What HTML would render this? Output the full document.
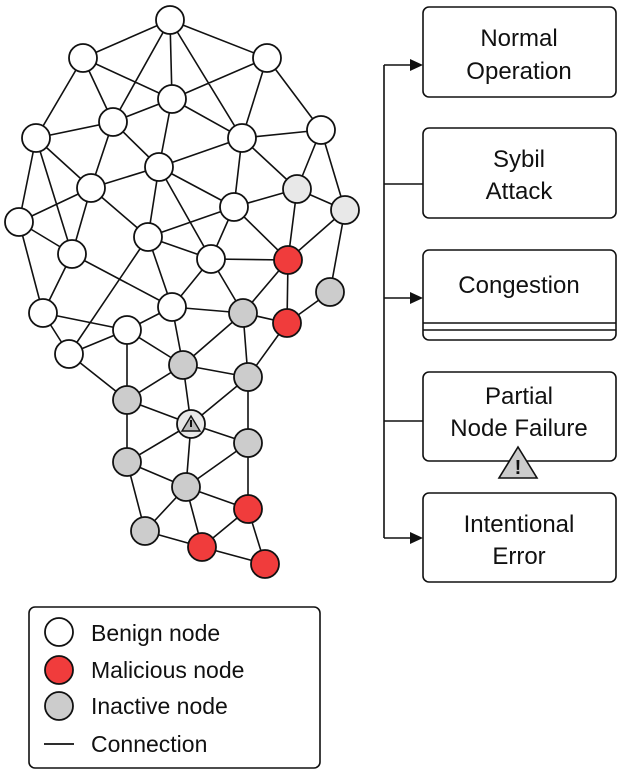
<!DOCTYPE html>
<html><head><meta charset="utf-8"><style>
html,body{margin:0;padding:0;background:#fff;}
text{font-family:"Liberation Sans",sans-serif;fill:#111;}
</style></head><body>
<svg width="624" height="776" viewBox="0 0 624 776" xmlns="http://www.w3.org/2000/svg">
<g stroke="#111" stroke-width="1.6" fill="none">
<path d="M170,20L83,58M170,20L267,58M170,20L172,99M170,20L113,122M170,20L242,138
M83,58L172,99M83,58L113,122M83,58L36,138
M267,58L172,99M267,58L242,138M267,58L321,130
M172,99L113,122M172,99L159,167M172,99L242,138
M113,122L36,138M113,122L159,167M113,122L91,188
M36,138L91,188M36,138L19,222M36,138L72,254
M242,138L159,167M242,138L234,207M242,138L321,130M242,138L297,189
M321,130L297,189M321,130L345,210
M159,167L91,188M159,167L234,207M159,167L148,237M159,167L211,259
M91,188L19,222M91,188L72,254M91,188L148,237
M297,189L234,207M297,189L345,210M297,189L288,260
M345,210L288,260M345,210L330,292
M19,222L72,254M19,222L43,313M72,254L43,313M72,254L172,307
M234,207L148,237M234,207L211,259M234,207L288,260
M148,237L211,259M148,237L69,354M148,237L172,307
M211,259L172,307M211,259L243,313M211,259L288,260
M288,260L243,313M288,260L287,323M287,323L330,292
M43,313L127,330M43,313L69,354M69,354L127,330M127,330L172,307M172,307L243,313M172,307L183,365
M127,330L183,365M243,313L287,323M243,313L183,365M243,313L248,377M287,323L248,377
M69,354L127,400M127,330L127,400M183,365L127,400M183,365L248,377M183,365L191,424
M127,400L191,424M191,424L248,377M248,377L248,443M191,424L248,443
M127,400L127,462M127,462L191,424M191,424L186,487M127,462L186,487M186,487L248,443
M248,443L248,509M186,487L248,509M127,462L145,531M145,531L186,487M186,487L202,547
M145,531L202,547M202,547L248,509M248,509L265,564M202,547L265,564"/>
</g>
<g stroke="#111" stroke-width="1.8">
<g fill="#fff">
<circle cx="170" cy="20" r="14"/><circle cx="83" cy="58" r="14"/><circle cx="267" cy="58" r="14"/>
<circle cx="172" cy="99" r="14"/><circle cx="113" cy="122" r="14"/><circle cx="36" cy="138" r="14"/>
<circle cx="242" cy="138" r="14"/><circle cx="321" cy="130" r="14"/><circle cx="159" cy="167" r="14"/>
<circle cx="91" cy="188" r="14"/><circle cx="19" cy="222" r="14"/><circle cx="234" cy="207" r="14"/>
<circle cx="72" cy="254" r="14"/><circle cx="148" cy="237" r="14"/><circle cx="211" cy="259" r="14"/>
<circle cx="43" cy="313" r="14"/><circle cx="127" cy="330" r="14"/><circle cx="172" cy="307" r="14"/>
<circle cx="69" cy="354" r="14"/>
</g>
<g fill="#e8e8e8"><circle cx="297" cy="189" r="14"/><circle cx="345" cy="210" r="14"/><circle cx="191" cy="424" r="14"/></g>
<g fill="#ccc">
<circle cx="330" cy="292" r="14"/><circle cx="243" cy="313" r="14"/><circle cx="183" cy="365" r="14"/>
<circle cx="248" cy="377" r="14"/><circle cx="127" cy="400" r="14"/><circle cx="248" cy="443" r="14"/>
<circle cx="127" cy="462" r="14"/><circle cx="186" cy="487" r="14"/><circle cx="145" cy="531" r="14"/>
</g>
<g fill="#f03c3c">
<circle cx="288" cy="260" r="14"/><circle cx="287" cy="323" r="14"/><circle cx="248" cy="509" r="14"/>
<circle cx="202" cy="547" r="14"/><circle cx="265" cy="564" r="14"/>
</g>
</g>
<path d="M191,416L182,431L200,431Z" fill="#bbb" stroke="#111" stroke-width="1.4"/>
<rect x="190" y="420" width="2" height="7" fill="#111"/>
<!-- connectors -->
<g stroke="#111" stroke-width="1.6" fill="none">
<path d="M384,65V538M384,65H412M384,184H423M384,298H412M384,421H423M384,538H412"/>
</g>
<g fill="#111"><path d="M423,65L410,59L410,71Z"/><path d="M423,298L410,292L410,304Z"/><path d="M423,538L410,532L410,544Z"/></g>
<g stroke="#111" stroke-width="1.6" fill="#fff">
<rect x="423" y="7" width="193" height="90" rx="6"/>
<rect x="423" y="128" width="193" height="90" rx="6"/>
<rect x="423" y="250" width="193" height="90" rx="6"/>
<rect x="423" y="372" width="193" height="89" rx="6"/>
<rect x="423" y="493" width="193" height="89" rx="6"/>
</g>
<path d="M423,323H616M423,330H616" stroke="#111" stroke-width="1.4"/>
<path d="M518,447L499,478L537,478Z" fill="#ccc" stroke="#111" stroke-width="1.6"/>
<text x="518" y="474" font-size="20" font-weight="bold" text-anchor="middle">!</text>
<g font-size="24" text-anchor="middle">
<text x="519" y="46">Normal</text><text x="519" y="79">Operation</text>
<text x="519" y="167">Sybil</text><text x="519" y="199">Attack</text>
<text x="519" y="293">Congestion</text>
<text x="519" y="404">Partial</text><text x="519" y="436">Node Failure</text>
<text x="519" y="532">Intentional</text><text x="519" y="564">Error</text>
</g>
<!-- legend -->
<rect x="29" y="607" width="291" height="161" rx="6" fill="#fff" stroke="#111" stroke-width="1.6"/>
<g stroke="#111" stroke-width="1.8">
<circle cx="59" cy="632" r="14" fill="#fff"/>
<circle cx="59" cy="670" r="14" fill="#f03c3c"/>
<circle cx="59" cy="706" r="14" fill="#ccc"/>
<path d="M44,744H74"/>
</g>
<g font-size="23">
<text x="91" y="641">Benign node</text>
<text x="91" y="678">Malicious node</text>
<text x="91" y="714">Inactive node</text>
<text x="91" y="752">Connection</text>
</g>
</svg>
</body></html>
